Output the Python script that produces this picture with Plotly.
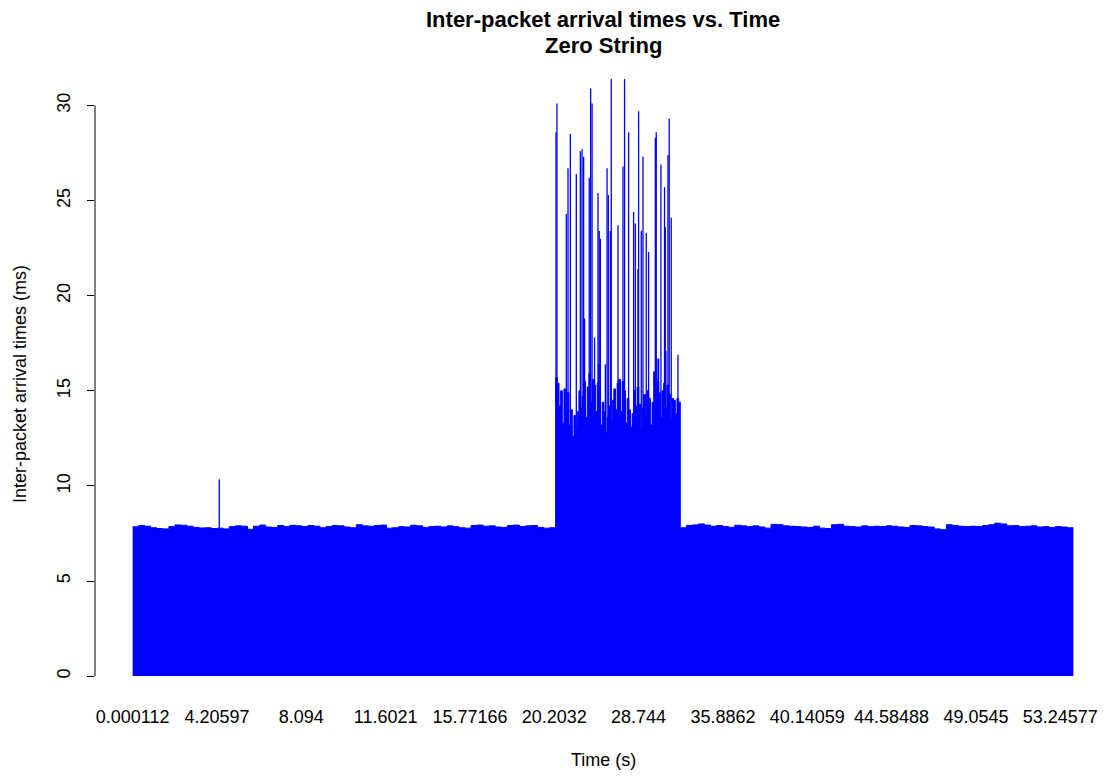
import numpy as np
import plotly.graph_objects as go

# ---------------- data ----------------
tick_labels = ["0.000112", "4.20597", "8.094", "11.6021", "15.77166", "20.2032",
               "28.744", "35.8862", "40.14059", "44.58488", "49.0545", "53.24577"]
tick_index = [1, 541, 1081, 1621, 2161, 2701, 3241, 3781, 4321, 4861, 5401, 5941]
n_packets = 6025

# steady regime before the burst (block levels, ms)
pre_start, pre_end = 1, 2710
pre_levels = [7.85, 7.92, 7.88, 7.80, 7.76, 7.74, 7.86, 7.95, 7.93, 7.88,
              7.82, 7.79, 7.80, 7.76, 7.78, 7.74, 7.86, 7.90, 7.88, 7.72,
              7.88, 7.94, 7.84, 7.82, 7.92, 7.86, 7.93, 7.90, 7.86, 7.92,
              7.88, 7.80, 7.86, 7.92, 7.90, 7.84, 7.80, 7.96, 7.90, 7.88,
              7.92, 7.94, 7.78, 7.80, 7.86, 7.84, 7.93, 7.90, 7.82, 7.86,
              7.88, 7.84, 7.90, 7.86, 7.80, 7.78, 7.92, 7.94, 7.88, 7.90,
              7.84, 7.82, 7.92, 7.94, 7.86, 7.90, 7.92, 7.82, 7.78, 7.80]

# dense part of the burst
burst_start, burst_end = 2710, 3508
burst_levels = [15.7, 15.4, 14.2, 15.0, 13.3, 15.1, 13.8, 14.9, 13.2, 14.0,
                12.6, 13.7, 12.9, 13.9, 15.0, 14.1, 14.7, 15.5, 13.6, 15.2,
                15.9, 14.4, 15.6, 15.3, 13.9, 15.4, 14.6, 13.2, 14.4, 13.9,
                12.8, 13.6, 14.2, 13.4, 14.5, 15.1, 14.0, 15.4, 15.6, 13.9,
                15.5, 15.0, 13.3, 14.6, 14.0, 13.1, 13.8, 15.0, 14.2, 15.2,
                14.3, 13.0, 14.1, 14.8, 13.7, 15.0, 14.6, 13.2, 14.4, 16.0,
                14.1, 15.5, 14.9, 13.6, 15.0, 15.4, 14.2, 15.3, 14.8, 13.5,
                14.6, 14.5, 13.8, 14.6, 14.4]

# steady regime after the burst
post_start, post_end = 3508, 6025
post_levels = [7.80, 7.92, 7.95, 8.00, 7.94, 7.88, 7.92, 7.86, 7.82, 7.93,
               7.90, 7.86, 7.90, 7.84, 7.78, 7.98, 7.96, 7.90, 7.88, 7.86,
               7.84, 7.82, 7.88, 7.78, 7.76, 7.96, 7.98, 7.88, 7.86, 7.84,
               7.90, 7.86, 7.88, 7.86, 7.90, 7.88, 7.84, 7.82, 7.92, 7.90,
               7.86, 7.84, 7.74, 7.70, 7.96, 7.92, 7.88, 7.86, 7.88, 7.86,
               7.92, 7.96, 8.04, 8.00, 7.90, 7.92, 7.86, 7.88, 7.90, 7.84,
               7.86, 7.82, 7.86, 7.84, 7.80]

# individual large inter-arrival times (packet index, ms)
spike_index = [556,
               2712, 2718, 2778, 2789, 2804, 2842, 2868, 2879, 2889, 2925,
               2934, 2943, 2981, 2989, 2996, 3039, 3047, 3060, 3066, 3109,
               3141, 3151, 3177, 3209, 3220, 3237, 3241, 3258, 3269, 3290,
               3305, 3348, 3354, 3384, 3407, 3412, 3429, 3437, 3450,
               2895, 2959, 2985, 3028, 3359, 3369, 3416, 3493]
spike_ms = [10.35,
            28.6, 30.1, 24.3, 26.7, 28.5, 26.4, 27.6, 27.7, 27.3, 26.2,
            30.9, 30.1, 25.4, 23.4, 23.0, 26.7, 25.3, 23.4, 31.4, 23.7,
            26.8, 31.4, 28.6, 24.4, 23.8, 21.4, 29.7, 23.4, 27.3, 23.3,
            22.3, 28.3, 28.6, 26.9, 25.7, 23.6, 27.4, 29.3, 24.1,
            18.8, 17.8, 16.4, 16.4, 16.7, 16.7, 17.1, 16.9]

BLUE = "#0000ff"
FONT = "Liberation Sans, Arial, Helvetica, sans-serif"

# one continuous stepped envelope built from the three regimes
edges, levels = [], []
for start, end, lv in [(pre_start, pre_end, pre_levels),
                       (burst_start, burst_end, burst_levels),
                       (post_start, post_end, post_levels)]:
    e = np.linspace(start, end, len(lv) + 1)
    edges += list(e[:-1])
    levels += list(lv)
edges.append(post_end)
levels.append(post_levels[-1])

fig = go.Figure()
fig.add_trace(go.Scatter(x=edges, y=levels, mode="lines",
                         line=dict(color=BLUE, width=1, shape="hv"),
                         fill="tozeroy", fillcolor=BLUE,
                         hoverinfo="skip", showlegend=False))

sx, sy = [], []
for i, v in zip(spike_index, spike_ms):
    sx += [i, i, None]
    sy += [0, v, None]
fig.add_trace(go.Scatter(x=sx, y=sy, mode="lines",
                         line=dict(color=BLUE, width=1.3),
                         hoverinfo="skip", showlegend=False))

ymax = max(max(spike_ms), max(burst_levels), max(pre_levels), max(post_levels))
span = n_packets - 1
fig.update_xaxes(range=[1 - 0.04 * span, n_packets + 0.04 * span],
                 tickvals=tick_index, ticktext=tick_labels,
                 ticks="", showline=False, showgrid=False, zeroline=False,
                 tickfont=dict(family=FONT, size=18, color="black"),
                 ticklabelstandoff=4)
fig.update_yaxes(range=[-0.04 * ymax, 1.04 * ymax],
                 tickvals=[0, 5, 10, 15, 20, 25, 30],
                 ticks="outside", ticklen=7, tickwidth=1, tickcolor="black",
                 showline=False, showgrid=False, zeroline=False,
                 tickangle=-90,
                 tickfont=dict(family=FONT, size=18, color="black"),
                 ticklabelstandoff=10)

# y axis line from first to last tick (R style)
fig.add_shape(type="line", xref="paper", yref="y", x0=0, x1=0, y0=0, y1=30,
              line=dict(color="black", width=1))

fig.add_annotation(text="<b>Inter-packet arrival times vs. Time</b>",
                   xref="paper", yref="paper", x=0.5, y=(700 - 20) / 645,
                   yanchor="middle", showarrow=False,
                   font=dict(family=FONT, size=22, color="black"))
fig.add_annotation(text="<b>Zero String</b>",
                   xref="paper", yref="paper", x=0.5, y=(700 - 46) / 645,
                   yanchor="middle", showarrow=False,
                   font=dict(family=FONT, size=22, color="black"))
fig.add_annotation(text="Time (s)", xref="paper", yref="paper",
                   x=0.5, y=(700 - 760) / 645, yanchor="middle", showarrow=False,
                   font=dict(family=FONT, size=18, color="black"))
fig.add_annotation(text="Inter-packet arrival times (ms)", xref="paper", yref="paper",
                   x=(20 - 95) / 1016, y=(700 - 384) / 645,
                   xanchor="center", yanchor="middle",
                   textangle=-90, showarrow=False,
                   font=dict(family=FONT, size=18, color="black"))

fig.update_layout(width=1120, height=778,
                  margin=dict(l=95, r=9, t=55, b=78),
                  plot_bgcolor="white", paper_bgcolor="white")

fig.write_html("out.html")
